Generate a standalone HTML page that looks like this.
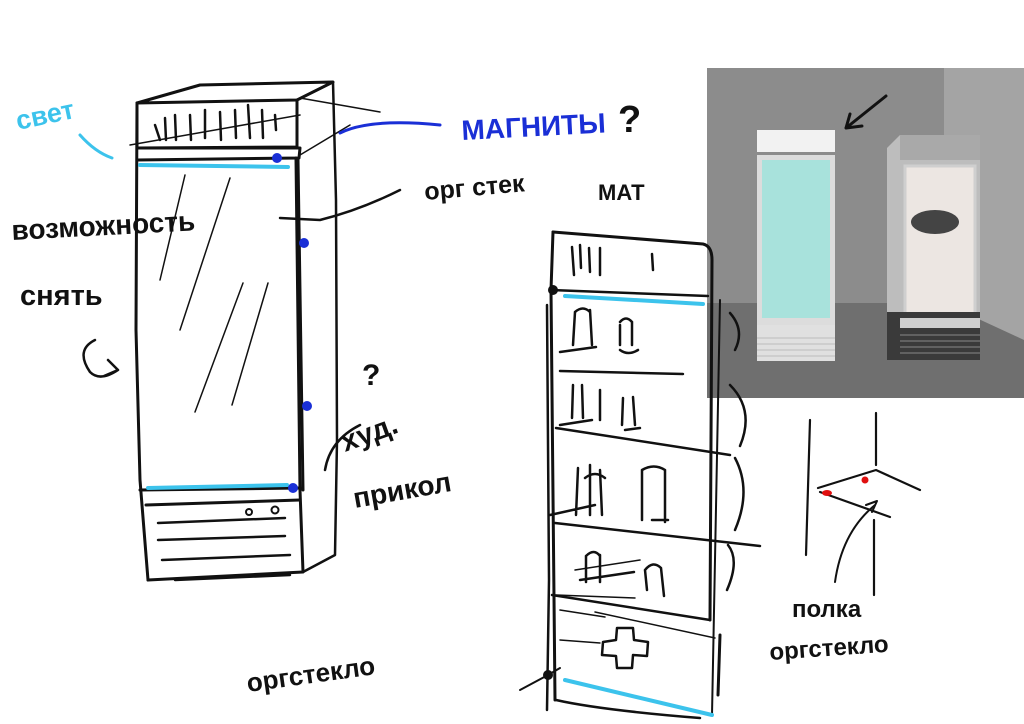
<!DOCTYPE html>
<html><head><meta charset="utf-8"><style>
html,body{margin:0;padding:0;background:#fff;}
svg{display:block}
text{font-family:"Liberation Sans","DejaVu Sans",sans-serif;font-weight:bold;}
</style></head><body>
<svg width="1024" height="724" viewBox="0 0 1024 724" xmlns="http://www.w3.org/2000/svg">
<rect width="1024" height="724" fill="#fff"/>
<!-- PHOTO -->
<g>
<rect x="707" y="68" width="317" height="330" fill="#8c8c8c"/>
<rect x="944" y="68" width="80" height="330" fill="#a4a4a4"/>
<polygon points="707,303 944,303 1024,340 1024,398 707,398" fill="#6f6f6f"/>
<rect x="757" y="130" width="78" height="22" fill="#f2f2f2"/>
<rect x="757" y="155" width="78" height="170" fill="#dcdcdc"/>
<rect x="762" y="160" width="68" height="158" fill="#a8e2dc"/>
<rect x="757" y="325" width="78" height="36" fill="#e0e0e0"/>
<g stroke="#bbb" stroke-width="1"><line x1="757" y1="338" x2="835" y2="338"/><line x1="757" y1="344" x2="835" y2="344"/><line x1="757" y1="350" x2="835" y2="350"/><line x1="757" y1="356" x2="835" y2="356"/></g>
<polygon points="887,148 900,135 980,135 980,360 887,360" fill="#bdbdbd"/>
<rect x="900" y="135" width="80" height="25" fill="#a9a9a9"/>
<rect x="905" y="166" width="70" height="158" fill="#ece6e2" stroke="#cfcfcf" stroke-width="3"/>
<ellipse cx="935" cy="222" rx="24" ry="12" fill="#444"/>
<rect x="887" y="312" width="93" height="48" fill="#3a3a3a"/>
<rect x="900" y="318" width="80" height="10" fill="#cfcfcf"/>
<g stroke="#888" stroke-width="1"><line x1="900" y1="335" x2="980" y2="335"/><line x1="900" y1="341" x2="980" y2="341"/><line x1="900" y1="347" x2="980" y2="347"/><line x1="900" y1="353" x2="980" y2="353"/></g>
<path d="M886,96 L846,128 M846,128 L862,126 M846,128 L850,114" stroke="#111" stroke-width="3" fill="none" stroke-linecap="round"/>
</g>

<g fill="none" stroke="#111" stroke-width="3" stroke-linecap="round" stroke-linejoin="round">
<path d="M137,103 L297,100 L333,82 L200,85 L137,103"/>
<path d="M137,103 L137,148 L297,147 L297,100"/>
<path d="M137,148 L300,148 L299,158 L137,160"/>
<path d="M137,103 L136,330 L140,480 L148,580"/>
<path d="M148,580 L303,572 L300,490 L296,158"/>
<path d="M333,82 L336,200 L337,440 L335,555 L303,572" stroke-width="2.5"/>
<path d="M140,490 L300,488"/>
<path d="M146,505 L300,500"/>
<path d="M158,540 L285,536 M162,560 L290,555 M158,523 L285,518 M175,580 L290,575" stroke-width="2.5"/>
<circle cx="249" cy="512" r="3" stroke-width="2"/><circle cx="275" cy="510" r="3.5" stroke-width="2"/>
<path d="M155,125 L160,140 M165,118 L166,140 M175,115 L176,140 M190,115 L191,140 M205,110 L205,138 M220,112 L221,140 M235,110 L236,138 M248,105 L250,138 M262,110 L263,138 M275,115 L276,130" stroke-width="2.5"/>
<path d="M130,145 L300,115" stroke-width="1.5"/>
<g stroke-width="1.5"><path d="M185,175 L160,280 M230,178 L180,330 M243,283 L195,412 M268,283 L232,405"/></g>
<path d="M298,160 L303,490" stroke-width="3"/>
<path d="M280,218 L320,220 Q360,210 400,190" stroke-width="2.5"/>
<path d="M300,98 L380,112 M300,155 L350,125" stroke-width="1.5"/>
<path d="M360,425 Q330,440 325,470" stroke-width="2.5"/>
<path d="M95,340 Q75,350 90,372 Q100,382 118,370 M108,360 L118,370 L104,376" stroke-width="2.5"/>

<path d="M553,232 L703,244 Q712,246 712,260 L710,620"/>
<path d="M553,232 L551,290 L555,700" />
<path d="M551,290 L708,296" stroke-width="2.5"/>
<path d="M547,305 L549,580 L547,710" stroke-width="2.5"/>
<path d="M560,371 L683,374 M556,428 L730,455 M555,523 L760,546 M552,595 L710,620 M556,700 Q600,710 700,718" stroke-width="2.5"/>
<path d="M556,595 L635,598 M560,610 L605,617 M560,640 L600,643 M595,612 L715,638 M575,570 L640,560" stroke-width="1.5"/>
<path d="M572,247 L574,275 M580,245 L581,268 M589,248 L590,272 M600,248 L600,275 M652,254 L653,270" stroke-width="2.5"/>
<path d="M720,300 L712,715" stroke-width="2"/>
<path d="M720,635 L718,695" stroke-width="3"/>
<path d="M730,313 Q745,330 735,350 M730,385 Q755,410 740,446 M735,458 Q752,490 735,530 M728,545 Q740,560 727,590" stroke-width="2.5"/>
<path d="M575,312 L573,345 M590,310 L592,345 M575,312 Q583,305 590,312 M620,325 L620,345 M632,322 L632,345 M620,322 Q626,315 632,322 M560,352 L596,347 M620,350 Q628,356 638,350" stroke-width="2.5"/>
<path d="M573,385 L572,418 M582,385 L583,418 M600,390 L600,420 M623,398 L622,425 M633,397 L635,425 M560,425 L592,420 M625,430 L640,428" stroke-width="2.5"/>
<path d="M578,468 L576,515 M590,465 L590,515 M600,470 L602,515 M585,478 Q595,470 605,478 M642,470 L642,520 M665,470 L665,522 M642,470 Q654,463 665,470 M550,515 L595,505 M652,520 L668,520" stroke-width="2.5"/>
<path d="M586,556 L586,582 M600,555 L600,582 M586,556 Q594,548 600,556 M645,570 L647,590 M661,568 L664,596 M645,570 Q653,560 661,568 M580,580 L634,572" stroke-width="2.5"/>
<path d="M617,628 L633,628 L634,640 L648,642 L647,656 L633,655 L632,668 L617,668 L616,656 L602,655 L603,642 L616,640 Z" stroke-width="2.5"/>
<path d="M548,675 L520,690 M548,675 L560,668" stroke-width="2"/>

<path d="M810,420 L806,555 M876,413 L876,465 M874,520 L874,595 M818,488 L876,470 L920,490 M820,492 L890,517" stroke-width="2.2"/>
<path d="M835,582 Q842,532 875,505 M866,505 L877,501 L872,512" stroke-width="2"/>
</g>
<g fill="none" stroke-linecap="round">
<path d="M140,165 L288,167" stroke="#3cc3ec" stroke-width="4"/>
<path d="M148,488 L287,485" stroke="#3cc3ec" stroke-width="4"/>
<path d="M565,296 L703,304" stroke="#3cc3ec" stroke-width="4"/>
<path d="M565,680 L712,715" stroke="#3cc3ec" stroke-width="4"/>
<path d="M80,135 Q95,152 112,158" stroke="#3cc3ec" stroke-width="3"/>
<path d="M340,133 Q370,118 440,125" stroke="#1a2fd6" stroke-width="3"/>
</g>
<g fill="#1a2fd6"><circle cx="277" cy="158" r="5"/><circle cx="304" cy="243" r="5"/><circle cx="307" cy="406" r="5"/><circle cx="293" cy="488" r="5"/></g>
<g fill="#e01010"><ellipse cx="827" cy="493" rx="5" ry="3"/><circle cx="865" cy="480" r="3.5"/></g>
<circle cx="553" cy="290" r="5" fill="#111"/><circle cx="548" cy="675" r="5" fill="#111"/>

<text x="18" y="130" font-size="27" fill="#3cc3ec" transform="rotate(-12 18 130)">свет</text>
<text x="462" y="140" font-size="28" fill="#1a2fd6" transform="rotate(-3 462 140)">МАГНИТЫ</text>
<text x="618" y="132" font-size="38" fill="#111">?</text>
<text x="425" y="200" font-size="25" fill="#111" transform="rotate(-5 425 200)">орг стек</text>
<text x="598" y="200" font-size="22" fill="#111">МАТ</text>
<text x="12" y="240" font-size="28" fill="#111" transform="rotate(-3 12 240)">возможность</text>
<text x="20" y="305" font-size="29" fill="#111">снять</text>
<text x="362" y="385" font-size="30" fill="#111">?</text>
<text x="345" y="452" font-size="29" fill="#111" transform="rotate(-20 345 452)">худ.</text>
<text x="355" y="508" font-size="28" fill="#111" transform="rotate(-10 355 508)">прикол</text>
<text x="248" y="692" font-size="26" fill="#111" transform="rotate(-8 248 692)">оргстекло</text>
<text x="792" y="617" font-size="24" fill="#111">полка</text>
<text x="770" y="660" font-size="24" fill="#111" transform="rotate(-4 770 660)">оргстекло</text>
</svg>
</body></html>
